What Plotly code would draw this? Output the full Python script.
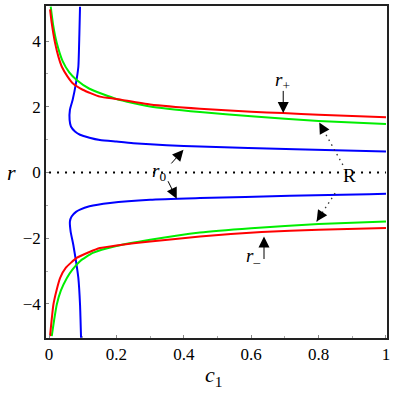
import plotly.graph_objects as go

# ---- data ----
red_up_x = [0.003, 0.008, 0.018, 0.028, 0.038, 0.055, 0.072, 0.10, 0.151, 0.2, 0.3, 0.448, 0.6, 0.694, 0.8, 1.0]
red_up_y = [4.97, 4.55, 3.94, 3.52, 3.22, 2.92, 2.70, 2.52, 2.31, 2.24, 2.07, 1.94, 1.85, 1.81, 1.76, 1.68]

green_up_x = [0.005, 0.012, 0.023, 0.04, 0.06, 0.082, 0.12, 0.2, 0.3, 0.448, 0.6, 0.8, 1.0]
green_up_y = [5.05, 4.5, 3.94, 3.4, 3.05, 2.82, 2.55, 2.24, 2.01, 1.84, 1.71, 1.57, 1.48]

blue_up_x = [0.092, 0.090, 0.087, 0.080, 0.070, 0.062, 0.061, 0.065, 0.077, 0.092, 0.12, 0.151, 0.2, 0.25, 0.349, 0.448, 0.73, 1.0]
blue_up_y = [5.05, 4.2, 3.22, 2.72, 2.21, 1.91, 1.60, 1.40, 1.25, 1.15, 1.06, 0.99, 0.94, 0.89, 0.83, 0.79, 0.71, 0.64]

red_lo_x = [0.003, 0.013, 0.022, 0.033, 0.05, 0.082, 0.12, 0.151, 0.2, 0.3, 0.448, 0.631, 0.8, 1.0]
red_lo_y = [-4.98, -4.02, -3.6, -3.21, -2.9, -2.60, -2.42, -2.30, -2.22, -2.10, -1.95, -1.81, -1.74, -1.69]

green_lo_x = [0.008, 0.015, 0.023, 0.035, 0.053, 0.07, 0.092, 0.13, 0.2, 0.3, 0.448, 0.6, 0.8, 1.0]
green_lo_y = [-4.98, -4.5, -4.02, -3.6, -3.21, -2.95, -2.70, -2.45, -2.24, -2.05, -1.83, -1.70, -1.57, -1.49]

blue_lo_x = [0.095, 0.092, 0.087, 0.080, 0.072, 0.064, 0.062, 0.067, 0.080, 0.092, 0.12, 0.181, 0.3, 0.448, 0.715, 0.95, 1.0]
blue_lo_y = [-5.03, -4.02, -3.21, -2.70, -2.20, -1.79, -1.49, -1.34, -1.20, -1.13, -1.03, -0.93, -0.83, -0.78, -0.71, -0.66, -0.65]

zero_x = [0.0, 1.0]
zero_y = [0.0, 0.0]

x_ticks = [0, 0.2, 0.4, 0.6, 0.8, 1]
x_tick_text = ["0", "0.2", "0.4", "0.6", "0.8", "1"]
y_ticks = [-4, -2, 0, 2, 4]
y_tick_text = ["\u22124", "\u22122", "0", "2", "4"]

# annotation anchors (data coordinates): (text, x, y)
labels = [("<i>r</i><sub>+</sub>", 0.694, 2.80),
          ("<i>r</i><sub>0</sub>", 0.326, 0.02),
          ("R", 0.891, -0.08),
          ("<i>r</i><sub>\u2013</sub>", 0.605, -2.56)]
# solid arrows: (tail_x, tail_y, tip_x, tip_y)
solid_arrows = [(0.695, 2.53, 0.695, 1.81),
                (0.359, 0.23, 0.399, 0.69),
                (0.351, -0.22, 0.379, -0.80),
                (0.638, -2.68, 0.638, -1.95)]
# dotted arrows: (tail_x, tail_y, tip_x, tip_y)
dotted_arrows = [(0.872, 0.23, 0.802, 1.52),
                 (0.849, -0.63, 0.794, -1.49)]

SERIF = "Times New Roman"

fig = go.Figure()

def curve(x, y, color):
    fig.add_trace(go.Scatter(x=x, y=y, mode="lines", line=dict(color=color, width=2, shape="spline", smoothing=0.5),
                             showlegend=False, hoverinfo="skip"))

curve(blue_up_x, blue_up_y, "#0000ff")
curve(blue_lo_x, blue_lo_y, "#0000ff")
curve(green_up_x, green_up_y, "#00ee00")
curve(green_lo_x, green_lo_y, "#00ee00")
curve(red_up_x, red_up_y, "#ff0000")
curve(red_lo_x, red_lo_y, "#ff0000")

fig.add_trace(go.Scatter(x=zero_x, y=zero_y, mode="lines",
                         line=dict(color="black", width=2, dash="2px,6px"),
                         showlegend=False, hoverinfo="skip"))

for (tx, ty, hx, hy) in dotted_arrows:
    fig.add_trace(go.Scatter(x=[tx, hx], y=[ty, hy], mode="lines",
                             line=dict(color="#333333", width=1.3, dash="1.5px,4px"),
                             showlegend=False, hoverinfo="skip"))

annotations = []
for (t, x, y) in labels:
    annotations.append(dict(x=x, y=y, xref="x", yref="y", text=t, showarrow=False,
                            font=dict(family=SERIF, size=19, color="black")))
for (tx, ty, hx, hy) in solid_arrows:
    annotations.append(dict(x=hx, y=hy, ax=tx, ay=ty, xref="x", yref="y", axref="x", ayref="y",
                            text="", showarrow=True, arrowhead=2, arrowsize=2.2, arrowwidth=1,
                            arrowcolor="black", standoff=0))
for (tx, ty, hx, hy) in dotted_arrows:
    dx = tx - hx
    dy = ty - hy
    annotations.append(dict(x=hx, y=hy, ax=hx + dx * 0.14, ay=hy + dy * 0.14, xref="x", yref="y",
                            axref="x", ayref="y", text="", showarrow=True, arrowhead=2,
                            arrowsize=2.2, arrowwidth=1, arrowcolor="black", standoff=0))

# axis titles
annotations.append(dict(x=-0.1, y=0.5, xref="paper", yref="paper", text="<i>r</i>", showarrow=False,
                        xanchor="center", yanchor="middle",
                        font=dict(family=SERIF, size=22, color="black")))
annotations.append(dict(x=0.49, y=-0.066, xref="paper", yref="paper", text="<i>c</i><sub>1</sub>",
                        xanchor="center", yanchor="top",
                        showarrow=False, font=dict(family=SERIF, size=22, color="black")))

fig.update_layout(
    width=395, height=395,
    margin=dict(l=46, r=8, t=6, b=57, autoexpand=False),
    paper_bgcolor="white", plot_bgcolor="white",
    font=dict(family=SERIF, size=14, color="black"),
    annotations=annotations,
    showlegend=False,
)
fig.update_xaxes(range=[-0.009, 1.003], tickvals=x_ticks, ticktext=x_tick_text, automargin=False,
                 showgrid=False, zeroline=False, showline=True, linecolor="#222222", linewidth=1.5,
                 mirror=True, ticks="inside", ticklen=3, tickcolor="#888888",
                 minor=dict(tickvals=[0.1, 0.3, 0.5, 0.7, 0.9], ticks="inside", ticklen=2, tickcolor="#aaaaaa"),
                 tickfont=dict(family=SERIF, size=17))
fig.update_yaxes(range=[-5.04, 5.07], tickvals=y_ticks, ticktext=y_tick_text, automargin=False,
                 showgrid=False, zeroline=False, showline=True, linecolor="#222222", linewidth=1.5,
                 mirror=True, ticks="inside", ticklen=3, tickcolor="#888888",
                 minor=dict(tickvals=[-3, -1, 1, 3], ticks="inside", ticklen=2, tickcolor="#aaaaaa"),
                 tickfont=dict(family=SERIF, size=17))

fig.write_html("out.html", config={"displayModeBar": False},
               post_script="document.body.style.margin='0';document.body.style.overflow='hidden';")
